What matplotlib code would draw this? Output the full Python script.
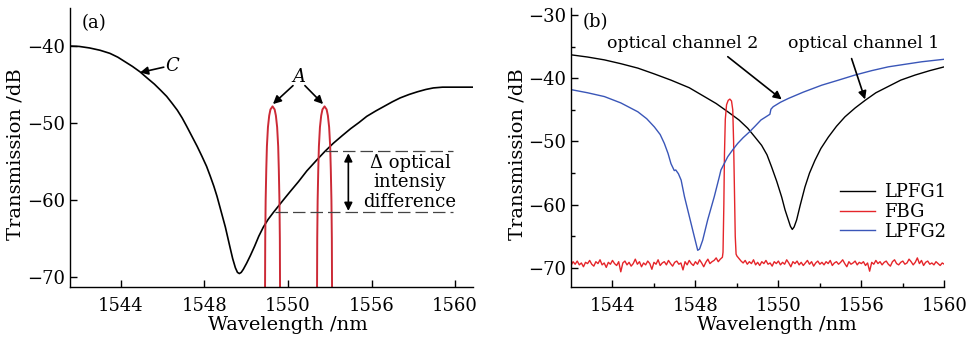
import numpy as np
import matplotlib
matplotlib.use('Agg')
import matplotlib.pyplot as plt

plt.rcParams['font.family'] = ['DejaVu Serif']
plt.rcParams['font.size'] = 12.5

# x tick positions / labels (labels as printed on the original figure)
xticks = [1544, 1548, 1552, 1556, 1560]
xticklabels = ['1544', '1548', '1550', '1556', '1560']

# ---- panel (a) ----
wl_a = [1541.56, 1542.0, 1542.5, 1543.0, 1543.47, 1543.85, 1544.2, 1544.55,
        1544.91, 1545.25, 1545.6, 1545.9, 1546.19, 1546.45, 1546.7, 1546.93,
        1547.15, 1547.4, 1547.65, 1547.88, 1548.1, 1548.28, 1548.45, 1548.6,
        1548.74, 1548.87, 1549.0, 1549.11, 1549.22, 1549.35, 1549.48, 1549.58,
        1549.67, 1549.76, 1549.86, 1550.02, 1550.2, 1550.4, 1550.6, 1550.82,
        1551.05, 1551.3, 1551.77, 1552.1, 1552.5, 1552.9, 1553.37, 1553.77,
        1554.17, 1554.6, 1555.0, 1555.4, 1555.77, 1556.2, 1556.6, 1557.0,
        1557.37, 1557.8, 1558.2, 1558.6, 1558.96, 1559.4, 1559.8, 1560.86]
db_a = [-39.95, -40.0, -40.2, -40.5, -40.9, -41.4, -42.0, -42.6,
        -43.3, -44.1, -44.9, -45.7, -46.5, -47.4, -48.3, -49.3,
        -50.4, -51.7, -53.0, -54.3, -55.6, -56.9, -58.2, -59.5,
        -60.9, -62.2, -63.5, -64.8, -66.1, -67.6, -68.8, -69.4,
        -69.55, -69.4, -69.0, -68.2, -67.2, -66.0, -64.7, -63.5,
        -62.5, -61.6, -60.0, -58.9, -57.6, -56.2, -54.8, -53.65,
        -52.6, -51.6, -50.7, -49.9, -49.1, -48.4, -47.8, -47.2,
        -46.7, -46.25, -45.9, -45.6, -45.4, -45.3, -45.3, -45.3]

# the two reflection peaks A: centres and (shared) half-width profile
peak_centres = [1551.26, 1553.75]
peak_levels = [-47.8, -48.2, -49.0, -50.5, -53.0, -56.0, -60.0, -65.0, -72.0]
peak_halfw = [0.0, 0.10, 0.16, 0.22, 0.27, 0.30, 0.33, 0.35, 0.36]

# ---- panel (b) ----
wl_lpfg1 = [1542.0, 1542.8, 1543.61, 1544.4, 1545.22, 1546.0, 1546.82, 1547.7,
            1548.43, 1549.0, 1549.56, 1550.1, 1550.52, 1550.87, 1551.19, 1551.45,
            1551.67, 1551.92, 1552.16, 1552.32, 1552.48, 1552.58, 1552.67, 1552.76,
            1552.88, 1553.05, 1553.28, 1553.5, 1553.76, 1554.05, 1554.41, 1554.8,
            1555.21, 1555.7, 1556.18, 1556.7, 1557.3, 1557.9, 1558.59, 1559.3,
            1560.0]
db_lpfg1 = [-36.3, -36.65, -37.1, -37.7, -38.4, -39.3, -40.3, -41.5,
            -42.9, -44.0, -45.3, -46.6, -47.9, -49.3, -50.6, -52.1,
            -54.0, -56.3, -58.8, -60.8, -62.4, -63.4, -63.9, -63.5,
            -62.4, -60.1, -57.2, -55.0, -53.0, -51.1, -49.3, -47.6,
            -46.1, -44.7, -43.5, -42.3, -41.3, -40.3, -39.5, -38.8,
            -38.2]

wl_lpfg2 = [1542.0, 1542.8, 1543.61, 1544.4, 1545.22, 1545.65, 1546.02, 1546.3,
            1546.5, 1546.68, 1546.82, 1546.98, 1547.05, 1547.18, 1547.31, 1547.47,
            1547.71, 1547.95, 1548.11, 1548.2, 1548.35, 1548.59, 1548.91, 1549.15,
            1549.23, 1549.56, 1549.8, 1550.04, 1550.3, 1550.6, 1550.87, 1551.16,
            1551.4, 1551.59, 1551.64, 1551.75, 1552.1, 1552.48, 1553.2, 1554.09,
            1554.9, 1555.69, 1556.5, 1557.3, 1558.1, 1558.91, 1560.0]
db_lpfg2 = [-41.8, -42.3, -42.9, -43.9, -45.3, -46.4, -47.7, -48.9,
            -50.3, -51.9, -53.5, -54.6, -54.5, -55.1, -56.1, -58.7,
            -61.9, -65.1, -67.2, -67.0, -65.6, -62.4, -58.7, -55.6,
            -54.5, -52.4, -51.3, -50.3, -49.4, -48.5, -47.6, -46.6,
            -46.1, -45.7, -44.9, -44.5, -43.8, -43.2, -42.2, -41.1,
            -40.3, -39.5, -38.8, -38.2, -37.8, -37.4, -37.0]

# FBG: noisy floor left of peak (1542.0..1549.3 step 0.1), peak, floor right (1550.0..1560.0)
fbg_left = [-69.6, -69.0, -69.4, -68.9, -69.5, -69.2, -69.8, -69.1, -69.3, -68.8,
            -69.4, -69.7, -69.0, -69.3, -68.7, -69.5, -69.2, -69.9, -69.1, -69.4,
            -68.8, -69.3, -69.6, -69.0, -70.6, -69.2, -68.9, -69.5, -69.1, -69.7,
            -69.3, -68.6, -69.4, -69.0, -69.8, -69.2, -69.5, -68.9, -69.3, -70.2,
            -69.1, -69.4, -68.7, -69.6, -69.2, -69.0, -69.5, -68.8, -69.3, -69.7,
            -69.1, -68.9, -69.4, -69.2, -70.3, -69.0, -69.5, -68.8, -69.3, -69.6,
            -69.0, -69.4, -68.7, -69.2, -69.8, -69.1, -68.6, -69.3, -69.0, -68.8,
            -68.4, -69.0, -68.6, -68.3]
fbg_peak_wl = [1549.33, 1549.37, 1549.40, 1549.44, 1549.50, 1549.58, 1549.66,
               1549.74, 1549.80, 1549.84, 1549.88, 1549.92, 1549.96]
fbg_peak_db = [-67.5, -60.0, -52.0, -46.5, -44.2, -43.5, -43.3,
               -43.6, -45.0, -50.0, -58.0, -65.0, -67.8]
fbg_right = [-68.1, -68.5, -68.9, -69.2, -68.8, -69.4, -69.0, -69.3, -68.7, -69.5,
             -69.1, -69.6, -69.0, -69.3, -68.8, -69.4, -69.2, -69.7, -69.0, -69.3,
             -68.9, -69.5, -69.1, -69.4, -68.7, -69.2, -69.8, -69.0, -69.3, -68.9,
             -69.5, -69.1, -69.6, -69.2, -68.8, -69.4, -69.0, -69.7, -69.2, -68.9,
             -69.4, -69.1, -69.5, -69.0, -69.3, -68.8, -69.6, -69.2, -69.0, -69.4,
             -69.1, -68.7, -69.3, -69.8, -69.0, -69.4, -69.2, -68.9, -69.5, -69.1,
             -69.3, -69.0, -69.6, -69.2, -70.5, -69.1, -69.4, -68.8, -69.3, -69.0,
             -69.5, -69.1, -68.9, -69.4, -69.7, -69.0, -68.7, -69.3, -69.5, -69.1,
             -68.9, -69.4, -69.2, -68.6, -69.0, -69.5, -69.1, -68.4, -69.3, -68.8,
             -69.6, -69.1, -68.9, -69.4, -69.2, -69.5, -69.0, -69.3, -69.6, -69.2,
             -69.4]

fbg_wl = np.concatenate([np.linspace(1542.0, 1549.3, len(fbg_left)),
                         fbg_peak_wl,
                         np.linspace(1550.0, 1560.0, len(fbg_right))])
fbg_db = np.concatenate([fbg_left, fbg_peak_db, fbg_right])

LABEL_SIZE = 14
TICK_SIZE = 13


def style_axes(ax):
    for s in ['top', 'right']:
        ax.spines[s].set_visible(False)
    for s in ['left', 'bottom']:
        ax.spines[s].set_linewidth(1.0)
    ax.tick_params(which='both', direction='in', width=1.0, labelsize=TICK_SIZE)
    ax.tick_params(which='major', length=5)
    ax.tick_params(which='minor', length=3)
    ax.tick_params(axis='x', pad=7)
    ax.tick_params(axis='y', pad=3.5)
    ax.set_xticks(xticks)
    ax.set_xticklabels(xticklabels)


def arrow(ax, tip, start, style='-|>'):
    ax.annotate('', xy=tip, xytext=start,
                arrowprops=dict(arrowstyle=style, color='k', lw=1.2,
                                mutation_scale=12, shrinkA=0, shrinkB=0))


fig = plt.figure(figsize=(9.71, 3.39), dpi=100)

# ---------------- (a) ----------------
ax1 = fig.add_axes([70 / 971, 52 / 339, 403 / 971, 279 / 339])
ax1.plot(wl_a, db_a, color='k', lw=1.2)
lev = np.array(peak_levels)
hw = np.array(peak_halfw)
for c in peak_centres:
    px = np.concatenate([c - hw[::-1], c + hw[1:]])
    py = np.concatenate([lev[::-1], lev[1:]])
    ax1.plot(px, py, color='#cc2a36', lw=1.4)

ax1.plot([1553.77, 1559.9], [-53.6, -53.6], color='#444444', lw=0.9, ls=(0, (10, 4)))
ax1.plot([1551.38, 1559.9], [-61.6, -61.6], color='#444444', lw=0.9, ls=(0, (10, 4)))
arrow(ax1, (1554.89, -53.9), (1554.89, -61.4), '<|-|>')
ax1.text(1557.84, -57.7, 'Δ optical\nintensiy\ndifference', ha='center',
         va='center', linespacing=1.12, fontsize=13)

ax1.text(1542.71, -36.9, '(a)', ha='center', va='center', fontsize=13)
ax1.text(1546.44, -42.6, 'C', style='italic', ha='center', va='center', fontsize=13)
arrow(ax1, (1544.91, -43.4), (1546.05, -42.7))
ax1.text(1552.53, -44.0, 'A', style='italic', ha='center', va='center', fontsize=13)
arrow(ax1, (1551.28, -47.5), (1552.24, -45.1))
arrow(ax1, (1553.68, -47.5), (1552.81, -45.1))

ax1.set_xlim(1541.56, 1560.86)
ax1.set_ylim(-71.3, -35.0)
ax1.set_yticks([-70, -60, -50, -40])
style_axes(ax1)
ax1.set_xlabel('Wavelength /nm', fontsize=LABEL_SIZE)
ax1.set_ylabel('Transmission /dB', fontsize=LABEL_SIZE)
ax1.xaxis.set_label_coords(0.54, -0.136)
ax1.xaxis.label.set_va('center')
ax1.yaxis.set_label_coords(-0.136, 0.477)
ax1.yaxis.label.set_va('center')

# ---------------- (b) ----------------
ax2 = fig.add_axes([571 / 971, 52 / 339, 373.3 / 971, 279 / 339])
ax2.plot(wl_lpfg1, db_lpfg1, color='k', lw=1.0, label='LPFG1')
ax2.plot(fbg_wl, fbg_db, color='#e5252a', lw=1.0, label='FBG')
ax2.plot(wl_lpfg2, db_lpfg2, color='#3a56b8', lw=1.0, label='LPFG2')

ax2.text(1543.16, -31.2, '(b)', ha='center', va='center', fontsize=13)
ax2.text(1547.37, -34.5, 'optical channel 2', ha='center', va='center')
ax2.text(1556.13, -34.5, 'optical channel 1', ha='center', va='center')
arrow(ax2, (1552.16, -43.35), (1549.56, -36.6))
arrow(ax2, (1556.18, -43.35), (1555.53, -36.9))

ax2.legend(loc='center left', bbox_to_anchor=(0.72, 0.269), frameon=False,
           borderpad=0, borderaxespad=0, handlelength=1.95, handletextpad=0.5,
           labelspacing=0.1, fontsize=13)

ax2.set_xlim(1542, 1560)
ax2.set_ylim(-73.0, -28.9)
ax2.set_yticks([-70, -60, -50, -40, -30])
ax2.set_xticks([1546, 1550, 1554, 1558], minor=True)
ax2.set_yticks([-65, -55, -45, -35], minor=True)
style_axes(ax2)
ax2.set_xlabel('Wavelength /nm', fontsize=LABEL_SIZE)
ax2.set_ylabel('Transmission /dB', fontsize=LABEL_SIZE)
ax2.xaxis.set_label_coords(0.551, -0.136)
ax2.xaxis.label.set_va('center')
ax2.yaxis.set_label_coords(-0.142, 0.477)
ax2.yaxis.label.set_va('center')

fig.savefig('out.png', dpi=100)
